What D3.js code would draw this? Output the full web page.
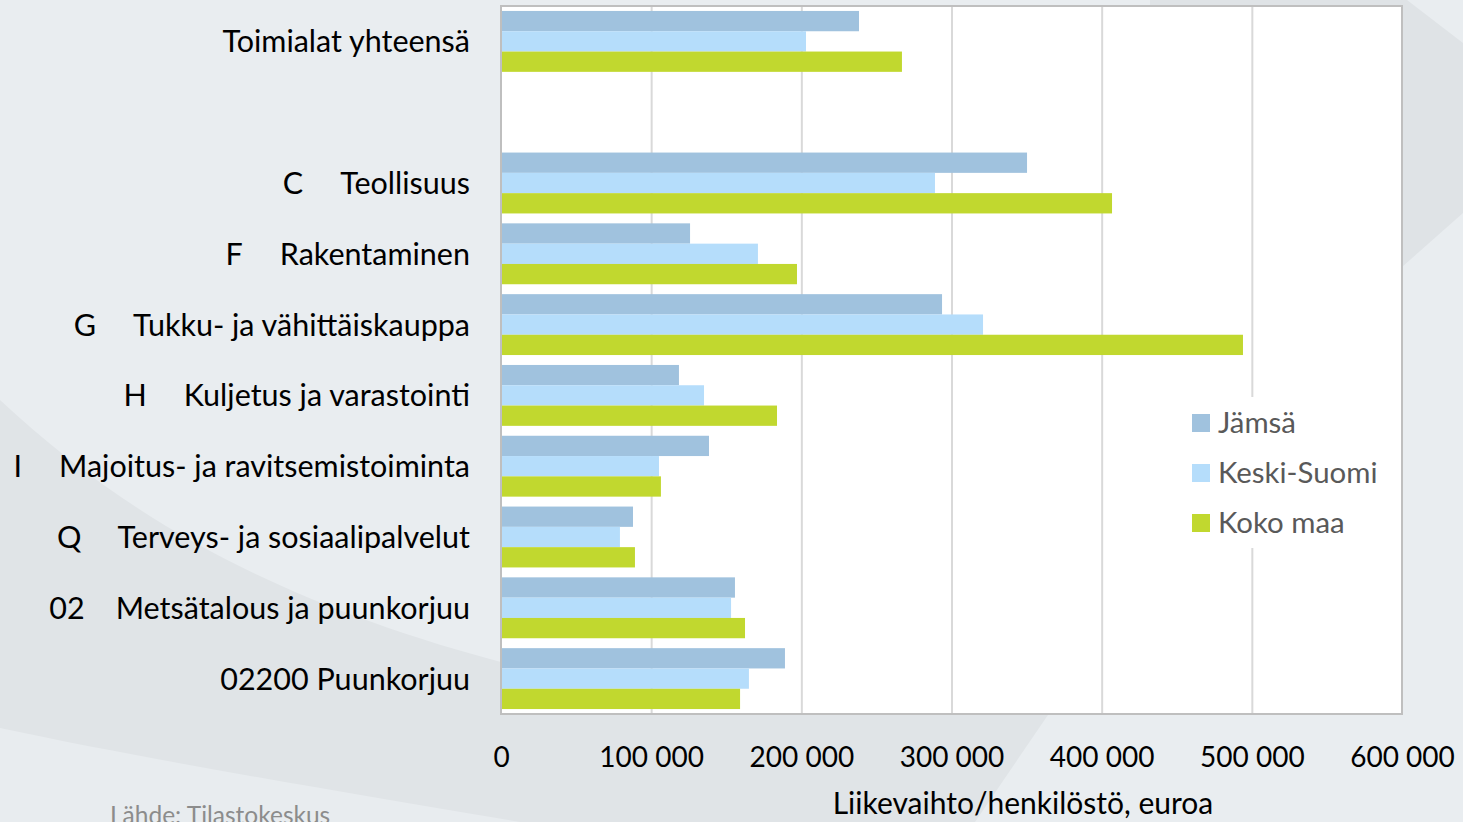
<!DOCTYPE html>
<html>
<head>
<meta charset="utf-8">
<script src="https://cdn.jsdelivr.net/npm/d3@7"></script>
<style>
  html, body { margin: 0; padding: 0; background: #e9edf0; }
  svg { display: block; font-family: Lato, "Open Sans", sans-serif; }
</style>
</head>
<body>
<svg id="chart" width="1463" height="822"></svg>
<script>
// data
const codes = ["", "", "C", "F", "G", "H", "I", "Q", "02", ""]
const names = ["Toimialat yhteensä", "", "Teollisuus", "Rakentaminen", "Tukku- ja vähittäiskauppa",
  "Kuljetus ja varastointi", "Majoitus- ja ravitsemistoiminta", "Terveys- ja sosiaalipalvelut",
  "Metsätalous ja puunkorjuu", "02200 Puunkorjuu"]
const jamsa =      [238400, null, 350300, 125900, 293700, 118500, 138500, 87900, 155800, 189100]
const keskiSuomi = [203100, null, 289000, 171100, 321000, 135200, 105200, 79200, 153200, 165100]
const kokoMaa =    [267000, null, 406900, 197100, 494100, 183800, 106500, 89200, 162500, 159200]
const seriesNames = ["Jämsä", "Keski-Suomi", "Koko maa"]
const seriesColors = ["#a0c2de", "#b5ddfb", "#c1d82f"]
const xTicks = [0, 100000, 200000, 300000, 400000, 500000, 600000]

const svg = d3.select("#chart")
const W = 1463, H = 822
const pLeft = 501, pRight = 1402, pTop = 6, pBottom = 714

// background swooshes
const bg = svg.append("g")
bg.append("rect").attr("width", W).attr("height", H).attr("fill", "#e9edf0")
bg.append("path")
  .attr("d", "M0,400 C150,540 330,630 620,690 L1050,712 L975,822 L0,822 Z")
  .attr("fill", "#e0e4e7")
bg.append("path")
  .attr("d", "M0,728 C150,760 330,790 520,822 L0,822 Z")
  .attr("fill", "#e8ecef")
bg.append("path")
  .attr("d", "M1150,0 L1407,0 L1463,43 L1463,213 L1402,267 L1402,6 L1150,6 Z")
  .attr("fill", "#dfe3e6")

const x = d3.scaleLinear().domain([0, 600000]).range([pLeft, pRight])
const y = d3.scaleBand().domain(d3.range(names.length)).range([pTop, pBottom])
  .paddingInner(0.14).paddingOuter(0.07)
const ySub = d3.scaleBand().domain(seriesNames).range([0, y.bandwidth()])

// plot area
svg.append("rect")
  .attr("x", pLeft).attr("y", pTop).attr("width", pRight - pLeft).attr("height", pBottom - pTop)
  .attr("fill", "#ffffff")

// gridlines
const grid = svg.append("g")
  .attr("transform", `translate(0,${pBottom})`)
  .call(d3.axisBottom(x).tickValues(xTicks.slice(1, -1)).tickSize(-(pBottom - pTop)).tickFormat(""))
grid.select(".domain").remove()
grid.selectAll("line").attr("stroke", "#d9d9d9").attr("stroke-width", 2)

// bars
const rows = names.map((n, i) => ({ i, vals: [jamsa[i], keskiSuomi[i], kokoMaa[i]] }))
const rowG = svg.append("g").selectAll("g").data(rows).join("g")
  .attr("transform", d => `translate(0,${y(d.i)})`)
rowG.selectAll("rect")
  .data(d => d.vals.map((v, k) => ({ v, k })).filter(e => e.v != null))
  .join("rect")
  .attr("x", x(0))
  .attr("y", e => ySub(seriesNames[e.k]))
  .attr("width", e => x(e.v) - x(0))
  .attr("height", ySub.bandwidth())
  .attr("fill", e => seriesColors[e.k])

// plot border
svg.append("rect")
  .attr("x", pLeft).attr("y", pTop).attr("width", pRight - pLeft).attr("height", pBottom - pTop)
  .attr("fill", "none").attr("stroke", "#bfbfbf").attr("stroke-width", 2)

// x axis labels
const fmt = d => d3.format(",")(d).replace(/,/g, " ")
const xAxis = svg.append("g")
  .attr("transform", `translate(0,${pBottom})`)
  .call(d3.axisBottom(x).tickValues(xTicks).tickSize(0).tickPadding(0).tickFormat(fmt))
xAxis.select(".domain").remove()
xAxis.selectAll("text")
  .attr("y", 53).attr("dy", 0)
  .attr("font-size", 28).attr("font-family", "Lato, sans-serif").attr("fill", "#000")

svg.append("text")
  .attr("x", 1023).attr("y", 814)
  .attr("text-anchor", "middle").attr("font-size", 30).attr("fill", "#000")
  .text("Liikevaihto/henkilöstö, euroa")

// category labels (code, tab-like gap, name)
const labels = svg.append("g").selectAll("text").data(rows.filter(d => names[d.i] !== "")).join("text")
  .attr("x", 470)
  .attr("y", d => y(d.i) + y.bandwidth() / 2 + 11)
  .attr("text-anchor", "end")
  .attr("font-size", 30.5)
  .attr("fill", "#000")
labels.each(function (d) {
  const t = d3.select(this)
  if (codes[d.i]) {
    t.append("tspan").text(codes[d.i])
    t.append("tspan").attr("dx", codes[d.i].length > 1 ? 31 : 37).text(names[d.i])
  } else {
    t.append("tspan").text(names[d.i])
  }
})

// legend
svg.append("rect").attr("x", 1184).attr("y", 397).attr("width", 203).attr("height", 151).attr("fill", "#ffffff")
const leg = svg.append("g").selectAll("g").data(seriesNames).join("g")
  .attr("transform", (d, k) => `translate(1192,${414 + k * 50})`)
leg.append("rect").attr("width", 18).attr("height", 18).attr("fill", (d, k) => seriesColors[k])
leg.append("text").attr("x", 26).attr("y", 19)
  .attr("font-size", 29.4).attr("fill", "#595959").text(d => d)

// source
svg.append("text")
  .attr("x", 110).attr("y", 824)
  .attr("font-size", 24.5).attr("fill", "#8c8c8c")
  .text("Lähde: Tilastokeskus")
</script>
</body>
</html>
